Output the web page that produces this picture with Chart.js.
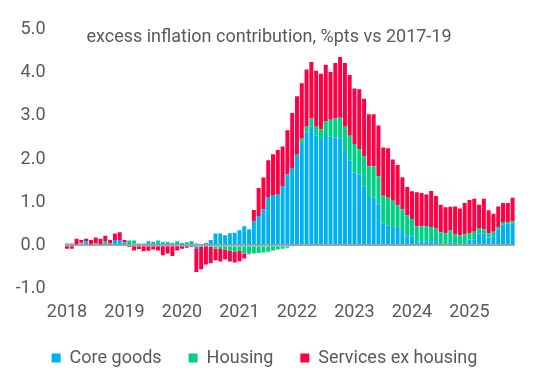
<!DOCTYPE html>
<html>
<head>
<meta charset="utf-8">
<script src="https://cdn.jsdelivr.net/npm/chart.js@4.4.1/dist/chart.umd.min.js"></script>
<style>
  html, body { margin: 0; padding: 0; background: #fff; }
  #wrap { width: 535px; height: 387px; position: relative; }
</style>
</head>
<body>
<div id="wrap"><canvas id="c"></canvas></div>
<script>
const TITLE = 'excess inflation contribution, %pts vs 2017-19'
const YEARS = ['2018', '2019', '2020', '2021', '2022', '2023', '2024', '2025']
const SERIES = ['Core goods', 'Housing', 'Services ex housing']
const COLORS = ['#00b0f0', '#00d084', '#ff0044']

// monthly contributions, %pts, Jan 2018 .. Oct 2025
const coreGoods = [
  0, 0, 0, 0.04, 0.09, 0.02, 0, 0, 0.06, 0.04, 0.12, 0.12,
  0.05, 0.05, 0.04, 0, 0, 0.05, 0.05, 0.06, 0.07, 0.07, 0.03, 0.05,
  0.01, 0.03, 0.05, -0.07, -0.04, 0.05, 0.12, 0.27, 0.27, 0.23, 0.28, 0.29,
  0.35, 0.44, 0.37, 0.55, 0.68, 0.83, 1.12, 1.15, 1.19, 1.36, 1.65, 1.79,
  2.05, 2.35, 2.62, 2.75, 2.54, 2.44, 2.56, 2.52, 2.5, 2.48, 2.21, 1.96,
  1.69, 1.64, 1.37, 1.12, 1.1, 0.95, 0.5, 0.45, 0.44, 0.4, 0.33, 0.21,
  0.21, 0.09, 0.09, 0.09, 0.09, 0.09, 0.02, 0, 0.07, 0, 0, 0,
  0.13, 0.14, 0.27, 0.27, 0.18, 0.21, 0.37, 0.48, 0.5, 0.51
]
const housing = [
  0.04, 0.04, 0, 0.02, 0, 0, 0.04, 0, 0.04, 0, 0, 0,
  0.02, 0.06, 0.07, 0.04, 0.04, 0.04, 0.03, 0.05, 0.01, 0.01, 0.02, 0.04,
  0.04, 0.04, 0.04, 0.04, 0.03, 0, -0.04, -0.08, -0.09, -0.1, -0.13, -0.15,
  -0.12, -0.19, -0.19, -0.19, -0.18, -0.17, -0.15, -0.12, -0.1, -0.08, -0.06, -0.02,
  0.05, 0.12, 0.13, 0.19, 0.21, 0.25, 0.31, 0.39, 0.44, 0.48, 0.54, 0.58,
  0.66, 0.59, 0.69, 0.71, 0.73, 0.65, 0.65, 0.65, 0.59, 0.53, 0.5, 0.48,
  0.4, 0.35, 0.35, 0.35, 0.33, 0.3, 0.28, 0.28, 0.27, 0.25, 0.23, 0.25,
  0.15, 0.17, 0.13, 0.1, 0.1, 0.1, 0.05, 0.06, 0.04, 0.04
]
const servicesExHousing = [
  -0.08, -0.08, 0.15, 0.06, 0.06, 0.1, 0.14, 0.15, 0.12, 0.08, 0.15, 0.18,
  0.05, -0.04, -0.12, -0.09, -0.14, -0.13, -0.1, -0.12, -0.23, -0.19, -0.25, -0.12,
  -0.08, -0.06, -0.04, -0.55, -0.52, -0.45, -0.38, -0.27, -0.29, -0.23, -0.25, -0.25,
  -0.25, -0.12, -0.02, 0.27, 0.65, 0.74, 0.85, 0.96, 1.02, 0.93, 1.02, 1.28,
  1.36, 1.29, 1.33, 1.31, 1.3, 1.29, 1.32, 1.11, 1.29, 1.41, 1.48, 1.41,
  1.29, 1.39, 1.34, 1.21, 1.21, 1.18, 1.12, 1.15, 0.96, 0.93, 0.75, 0.66,
  0.64, 0.79, 0.77, 0.74, 0.84, 0.75, 0.64, 0.6, 0.55, 0.65, 0.62, 0.73,
  0.77, 0.77, 0.54, 0.71, 0.53, 0.42, 0.48, 0.44, 0.44, 0.55
]

const months = []
YEARS.forEach(y => { for (let m = 1; m <= 12; m++) months.push(y + '-' + String(m).padStart(2, '0')) })
months.length = coreGoods.length

const TXT = '#595959'
Chart.defaults.font.family = 'Roboto'
Chart.defaults.color = TXT

// chart title sits inside the plot area
const titlePlugin = {
  id: 'insideTitle',
  afterDraw (chart) {
    const { ctx } = chart
    ctx.save()
    ctx.font = '18px Roboto'
    ctx.fillStyle = TXT
    ctx.textAlign = 'center'
    ctx.textBaseline = 'middle'
    ctx.fillText(TITLE, 269, 37)
    ctx.restore()
  }
}

// wide gaps between legend items, but keep the legend box short
const LG_UP = 7.3
const LG_RIGHT = 7
const legendTweak = {
  id: 'legendTweak',
  beforeInit (chart) {
    const lg = chart.legend
    if (!lg) return
    const fit = lg.fit
    const draw = lg.draw
    lg.fit = function () { fit.call(this); this.height = 57.7 }
    lg.draw = function () {
      this.top -= LG_UP; this.left += LG_RIGHT; this.right += LG_RIGHT
      draw.call(this)
      this.top += LG_UP; this.left -= LG_RIGHT; this.right -= LG_RIGHT
    }
  }
}

const bar = (label, data, color) => ({
  label, data, backgroundColor: color, borderWidth: 0,
  barPercentage: 0.83, categoryPercentage: 1.0, stack: 's'
})

new Chart(document.getElementById('c'), {
  type: 'bar',
  data: {
    labels: months,
    datasets: [
      bar(SERIES[0], coreGoods, COLORS[0]),
      bar(SERIES[1], housing, COLORS[1]),
      bar(SERIES[2], servicesExHousing, COLORS[2])
    ]
  },
  options: {
    responsive: true, maintainAspectRatio: false, animation: false,
    layout: { padding: { top: 28, right: 20, bottom: 0, left: 0 } },
    plugins: {
      tooltip: { enabled: false },
      legend: {
        position: 'bottom',
        labels: { color: TXT, font: { size: 18 }, boxWidth: 9, boxHeight: 9, padding: 27 }
      }
    },
    scales: {
      x: {
        stacked: true,
        grid: { display: false, drawTicks: false },
        border: { display: false },
        ticks: {
          autoSkip: false, maxRotation: 0, minRotation: 0, padding: 13,
          font: { size: 18 }, color: TXT,
          callback: (v, i) => i % 12 === 0 ? months[i].slice(0, 4) : ''
        },
        afterFit: s => { s.height = 41 }
      },
      y: {
        stacked: true, min: -1, max: 5, z: 1,
        border: { display: false },
        grid: {
          drawTicks: false,
          color: c => c.tick && c.tick.value === 0 ? '#a6a6a6' : 'rgba(0,0,0,0)',
          lineWidth: 2
        },
        ticks: {
          stepSize: 1, padding: 19, font: { size: 18 }, color: TXT,
          callback: v => v.toFixed(1)
        },
        afterFit: s => { s.width = 64.6 }
      }
    }
  },
  plugins: [titlePlugin, legendTweak]
})
</script>
</body>
</html>
